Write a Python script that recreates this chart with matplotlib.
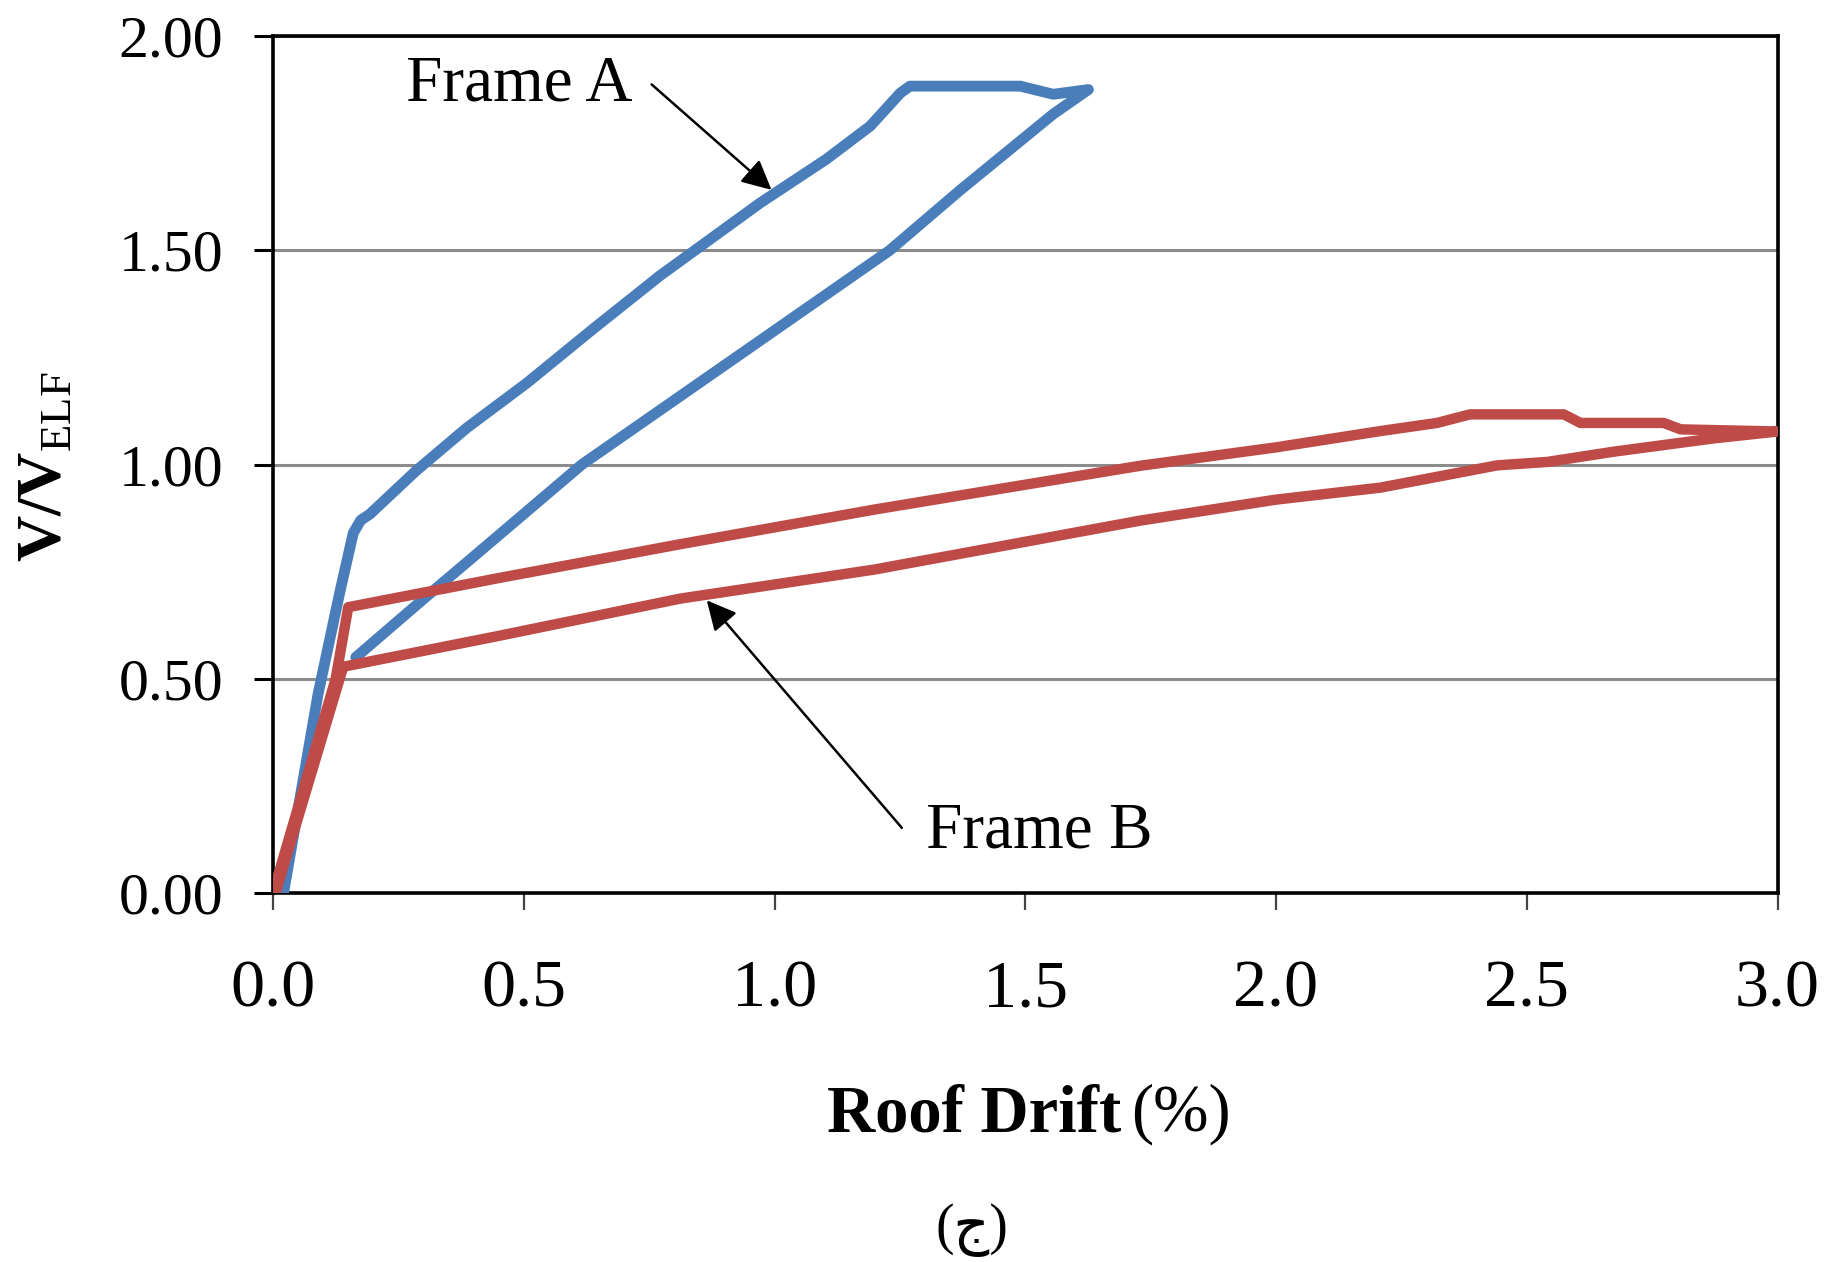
import matplotlib
matplotlib.use("Agg")
import matplotlib.pyplot as plt

# ---- data ----
frame_a_x = [0.021, 0.09, 0.134, 0.16, 0.175, 0.193, 0.285, 0.386, 0.506, 0.639, 0.772, 0.971,
             1.104, 1.191, 1.251, 1.27, 1.49, 1.556, 1.626,
             1.556, 1.37, 1.23, 0.971, 0.772, 0.616, 0.4, 0.3, 0.165]
frame_a_y = [0.0, 0.465, 0.706, 0.84, 0.87, 0.884, 0.985, 1.085, 1.19, 1.317, 1.441, 1.61,
             1.713, 1.79, 1.867, 1.883, 1.883, 1.864, 1.875,
             1.818, 1.640, 1.50, 1.289, 1.127, 1.0, 0.785, 0.686, 0.55]

frame_b_x = [0.0, 0.125, 0.14, 0.15, 0.45, 0.812, 1.2, 1.729, 2.0, 2.208, 2.321, 2.387, 2.574,
             2.607, 2.773, 2.807, 3.0,
             2.873, 2.674, 2.541, 2.441, 2.208, 2.0, 1.729, 1.2, 0.812, 0.45, 0.14, 0.005]
frame_b_y = [0.0, 0.50, 0.60, 0.667, 0.735, 0.814, 0.895, 0.997, 1.04, 1.078, 1.097, 1.117, 1.117,
             1.097, 1.097, 1.082, 1.077,
             1.061, 1.030, 1.006, 0.998, 0.946, 0.918, 0.869, 0.755, 0.687, 0.60, 0.528, 0.0]

x_ticks = [0.0, 0.5, 1.0, 1.5, 2.0, 2.5, 3.0]
x_tick_labels = ["0.0", "0.5", "1.0", "1.5", "2.0", "2.5", "3.0"]
y_ticks = [0.0, 0.5, 1.0, 1.5, 2.0]
y_tick_labels = ["0.00", "0.50", "1.00", "1.50", "2.00"]

label_a = "Frame A"
label_b = "Frame B"
label_a_pos = (0.491, 1.887)
label_b_pos = (1.528, 0.144)
arrow_a = ((0.755, 1.887), (0.994, 1.641))  # tail, tip
arrow_b = ((1.254, 0.152), (0.865, 0.683))

# ---- figure ----
plt.rcParams['font.family'] = ['Liberation Serif', 'DejaVu Sans']
plt.rcParams['mathtext.fontset'] = 'custom'
plt.rcParams['mathtext.rm'] = 'Liberation Serif'
plt.rcParams['mathtext.bf'] = 'Liberation Serif:bold'

W, H = 1837, 1262
fig = plt.figure(figsize=(W / 100, H / 100), dpi=100)
left, right = 273 / W, 1777.5 / W
top, bottom = 1 - 36 / H, 1 - 893 / H
ax = fig.add_axes([left, bottom, right - left, top - bottom])

ax.plot(frame_a_x, frame_a_y, color='#4A7EBB', lw=7.8, solid_joinstyle='round',
        solid_capstyle='round', zorder=3)
ax.plot(frame_b_x, frame_b_y, color='#BE4B48', lw=7.5, solid_joinstyle='round',
        solid_capstyle='round', zorder=4)

ax.set_xlim(0, 3.0)
ax.set_ylim(0, 2.0)
ax.set_xticks(x_ticks)
ax.set_xticklabels(x_tick_labels, fontsize=49)
ax.set_yticks(y_ticks)
ax.set_yticklabels(y_tick_labels, fontsize=43)

ax.yaxis.grid(True, color='#8c8c8c', lw=2.2, zorder=0)
ax.set_axisbelow(True)
for s in ax.spines.values():
    s.set_color('black')
    s.set_linewidth(2.6)

ax.tick_params(axis='y', direction='out', length=14, width=2.2, color='black', pad=22)
ax.tick_params(axis='x', direction='out', length=12, width=1.6, color='#444444', pad=36)

ax.text(*label_a_pos, label_a, fontsize=47, ha='center', va='center', zorder=6)
ax.text(*label_b_pos, label_b, fontsize=47, ha='center', va='center', zorder=6)
for tail, tip in (arrow_a, arrow_b):
    ax.annotate('', xy=tip, xytext=tail,
                arrowprops=dict(arrowstyle='-|>', color='black', lw=1.8,
                                mutation_scale=45, shrinkA=0, shrinkB=0),
                zorder=7)

# axis titles
fig.text(1121 / W, 1 - 1131 / H, "Roof Drift", fontsize=48, fontweight='bold',
         ha='right', va='baseline')
fig.text(1131 / W, 1 - 1131 / H, "(%)", fontsize=48, ha='left', va='baseline')
fig.text(47 / W, 1 - 467 / H, r"$\mathbf{V/V}_{\mathrm{ELF}}$", fontsize=46, rotation=90,
         ha='center', va='center')
fig.text(972 / W, 1 - 1230 / H, "(ج)", fontsize=40, ha='center', va='center',
         family=['Liberation Serif', 'DejaVu Sans'])

fig.savefig("out.png", dpi=100)
